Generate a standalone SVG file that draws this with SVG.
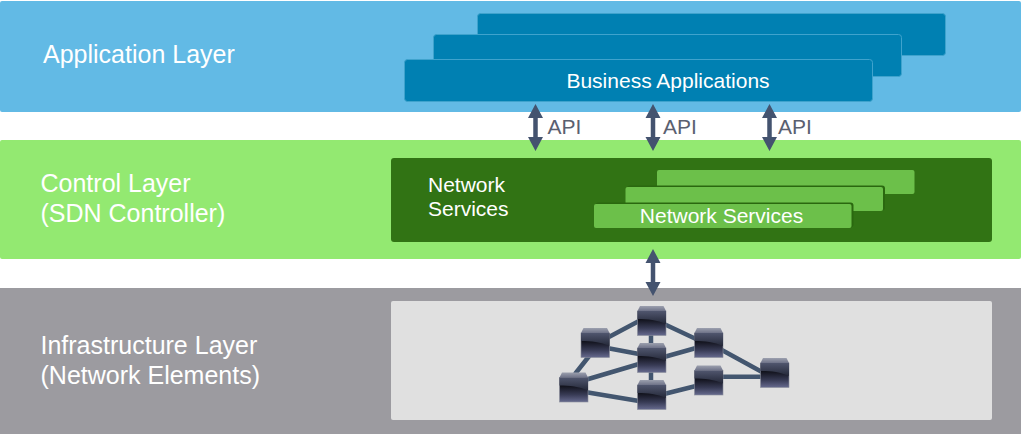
<svg xmlns="http://www.w3.org/2000/svg" width="1021" height="434" viewBox="0 0 1021 434">
<style>
text{font-family:"Liberation Sans",Arial,sans-serif}
.lbl{font-size:25px;fill:#fff}
.in{font-size:21px;fill:#fff}
.api{font-size:21px;fill:#5a6070}
.blue{fill:#0080b2;stroke:#3fa3cd;stroke-width:1}
.grn{fill:#6cc04a}
.edge{fill:#2a680f}
.lnk{stroke:#43566f;stroke-width:4.500;fill:none}
.arw{fill:#44536f}
</style>
<defs>
<linearGradient id="low" x1="0" y1="0" x2="0" y2="1">
<stop offset="0.35" stop-color="#12131d"/><stop offset="0.7" stop-color="#383b55"/><stop offset="1" stop-color="#666a8e"/>
</linearGradient>
<linearGradient id="up" x1="0" y1="0" x2="0" y2="1">
<stop offset="0" stop-color="#50566e"/><stop offset="1" stop-color="#242838"/>
</linearGradient>
<linearGradient id="cap" x1="0" y1="0" x2="0" y2="1">
<stop offset="0" stop-color="#9ca0ae"/><stop offset="1" stop-color="#6e7288"/>
</linearGradient>
<g id="sw">
<rect x="0" y="5" width="28.500" height="24.500" fill="url(#low)" stroke="#8a8e9c" stroke-width="0.600"/>
<path d="M0 5H28.500V18C20 14 10 13 0 13Z" fill="url(#up)"/>
<path d="M0 5L2.500 0H26L28.500 5Z" fill="url(#cap)"/>
</g>
<path id="dbl" class="arw" d="M0 0L7.500 14H2.250V33H7.500L0 47L-7.500 33H-2.250V14H-7.500Z"/>
</defs>
<g id="app-layer">
<rect x="0" y="1" width="1021" height="111" rx="2" fill="#62bae5"/>
<text class="lbl" x="43" y="63">Application Layer</text>
</g>
<g id="business-apps">
<rect class="blue" x="477.500" y="13.500" width="468" height="42" rx="3"/>
<rect class="blue" x="433.500" y="34.500" width="468" height="42" rx="3"/>
<rect class="blue" x="404.500" y="59.500" width="468" height="42" rx="3"/>
<text class="in" x="668" y="88" text-anchor="middle">Business Applications</text>
</g>
<g id="control-layer">
<rect x="0" y="140" width="1021" height="119" rx="2" fill="#93e971"/>
<text class="lbl" x="40.500" y="192">Control Layer</text>
<text class="lbl" x="40.500" y="222">(SDN Controller)</text>
</g>
<g id="network-services">
<rect x="391" y="158" width="601" height="84" rx="3" fill="#317314"/>
<text class="in" x="428" y="192">Network</text>
<text class="in" x="428" y="216">Services</text>
<rect class="grn" x="657" y="170" width="257.500" height="24" rx="2"/>
<rect class="edge" x="627" y="185.500" width="258" height="25" rx="3"/>
<rect class="grn" x="625.500" y="187" width="257.500" height="24" rx="2"/>
<rect class="edge" x="595.500" y="202.500" width="258" height="25" rx="3"/>
<rect class="grn" x="594" y="204" width="257.500" height="24" rx="2"/>
<text class="in" x="721.500" y="223" text-anchor="middle">Network Services</text>
</g>
<g id="infra-layer">
<rect x="0" y="288" width="1021" height="146" fill="#9c9ba0"/>
<text class="lbl" x="40.500" y="354">Infrastructure Layer</text>
<text class="lbl" x="40.500" y="384">(Network Elements)</text>
<rect x="391" y="301" width="601" height="119" rx="2" fill="#e0e0e0"/>
</g>
<g id="connectors">
<use href="#dbl" x="535.500" y="104"/>
<use href="#dbl" x="653" y="104"/>
<use href="#dbl" x="769.500" y="104"/>
<use href="#dbl" x="653" y="249"/>
<g class="lnk">
<path d="M607 338L639 321M651 334V345M664 324L696 339M607 348L639 354M664 357L696 348M651 370V382M590 355L575 374M585 380L639 364M585 392L639 401M664 394L696 386M720 349L762 372M720 376.700H762"/>
</g>
</g>
<g id="api-labels">
<text class="api" x="547.500" y="134">API</text>
<text class="api" x="663" y="134">API</text>
<text class="api" x="778" y="134">API</text>
</g>
<g id="switch-1"><use href="#sw" x="637.500" y="306"/></g>
<g id="switch-2"><use href="#sw" x="581" y="328"/></g>
<g id="switch-3"><use href="#sw" x="637.500" y="343"/></g>
<g id="switch-4"><use href="#sw" x="694.500" y="328"/></g>
<g id="switch-5"><use href="#sw" x="559.500" y="372.500"/></g>
<g id="switch-6"><use href="#sw" x="637.500" y="380"/></g>
<g id="switch-7"><use href="#sw" x="694.500" y="365.500"/></g>
<g id="switch-8"><use href="#sw" x="760.500" y="358"/></g>
</svg>
